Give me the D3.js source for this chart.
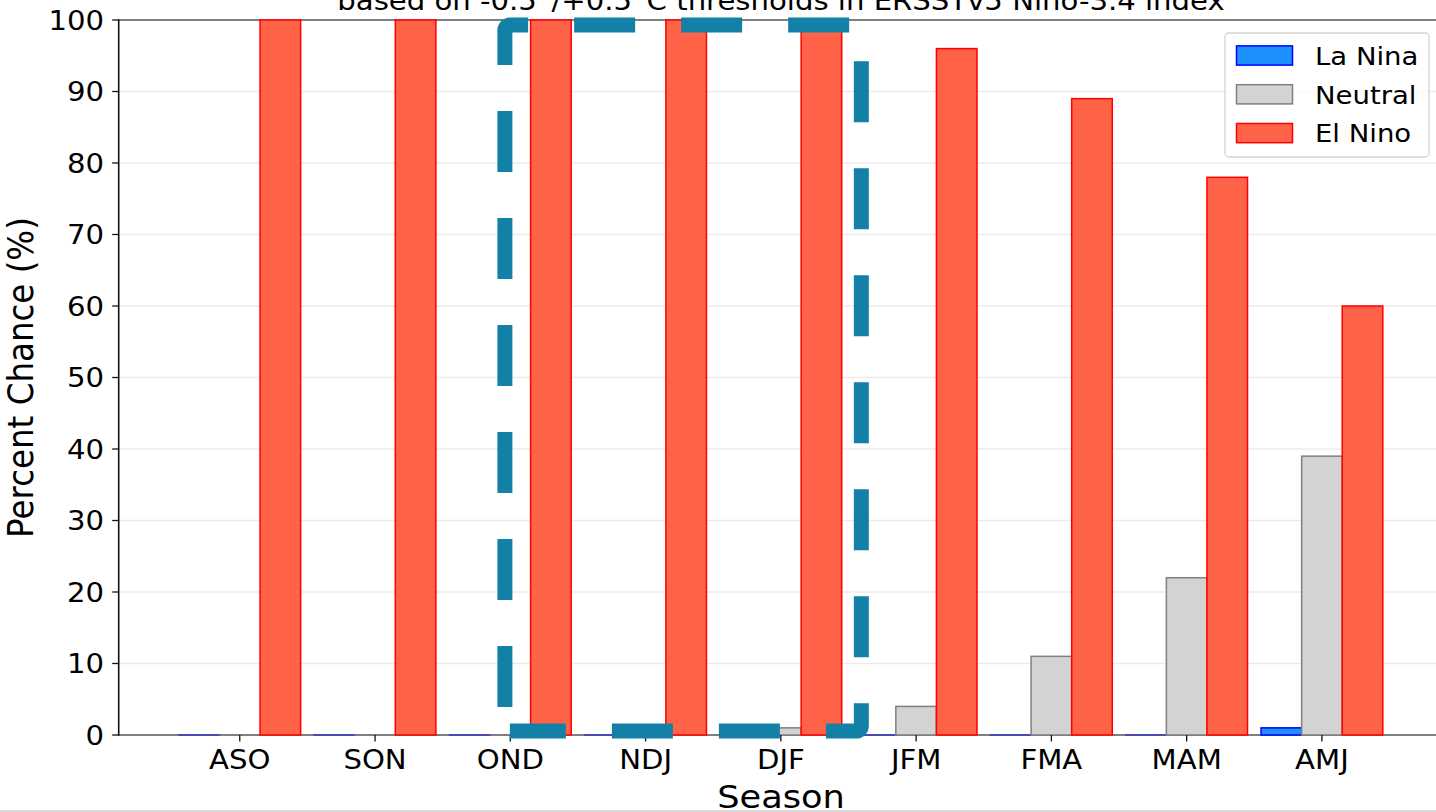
<!DOCTYPE html>
<html>
<head>
<meta charset="utf-8">
<script src="https://cdn.jsdelivr.net/npm/d3@7"></script>
<style>
  body { margin: 0; background: #fff; }
  text { font-family: "DejaVu Sans", sans-serif; fill: #000; }
</style>
</head>
<body>
<script>
// data
const seasons = ['ASO', 'SON', 'OND', 'NDJ', 'DJF', 'JFM', 'FMA', 'MAM', 'AMJ']
const laNina  = [0, 0, 0, 0, 0, 0, 0, 0, 1]
const neutral = [0, 0, 0, 0, 1, 4, 11, 22, 39]
const elNino  = [100, 100, 100, 100, 100, 96, 89, 78, 60]
const yTicks  = [0, 10, 20, 30, 40, 50, 60, 70, 80, 90, 100]
const seriesNames = ['La Nina', 'Neutral', 'El Nino']
const titleText = 'based on -0.5˚/+0.5˚C thresholds in ERSSTv5 Nino-3.4 index'
// highlight box (data units)
const boxX = [1.96, 4.595]
const boxY = [0.55, 99.3]

var svgWidth = 1436
var svgHeight = 812
var sx = 1.1   // the picture is a bit wider than tall

const series = [
  {name: seriesNames[0], values: laNina,  off: -0.3, fill: '#1e90ff', edge: '#0000ff'},
  {name: seriesNames[1], values: neutral, off: 0,    fill: '#d3d3d3', edge: '#808080'},
  {name: seriesNames[2], values: elNino,  off: 0.3,  fill: '#ff6347', edge: '#ff0000'}
]
const barW = 0.3

var svg = d3.select('body')
  .append('svg')
    .attr('width', svgWidth)
    .attr('height', svgHeight)

var xScale = d3.scaleLinear()
  .domain([-0.895, seasons.length - 1 + 0.895])
  .range([118.7, 1443])

var yScale = d3.scaleLinear()
  .domain([0, 100])
  .range([735, 20])

function label(parent, x, y, txt, size, anchor) {
  return parent.append('text')
    .attr('transform', 'translate(' + x + ',' + y + ') scale(' + sx + ',1)')
    .attr('text-anchor', anchor || 'middle')
    .style('font-size', size + 'px')
    .text(txt)
}

// grid
svg.append('g')
  .selectAll('line')
  .data(yTicks.slice(1, -1))
  .enter()
  .append('line')
    .attr('x1', xScale.range()[0])
    .attr('x2', svgWidth)
    .attr('y1', function(d) { return yScale(d) })
    .attr('y2', function(d) { return yScale(d) })
    .attr('stroke', '#ebebeb')
    .attr('stroke-width', 1.5)

// spines top/bottom
svg.append('line')
  .attr('x1', xScale.range()[0]).attr('x2', svgWidth)
  .attr('y1', yScale(100)).attr('y2', yScale(100))
  .attr('stroke', '#555').attr('stroke-width', 1.6)
svg.append('line')
  .attr('x1', xScale.range()[0]).attr('x2', svgWidth)
  .attr('y1', yScale(0)).attr('y2', yScale(0))
  .attr('stroke', '#555').attr('stroke-width', 1.6)

// bars (zero bars still get their edge drawn, like matplotlib)
series.forEach(function(s) {
  svg.append('g')
    .selectAll('rect')
    .data(s.values)
    .enter()
    .append('rect')
      .attr('x', function(d, i) { return xScale(i + s.off - barW / 2) })
      .attr('width', xScale(barW) - xScale(0))
      .attr('y', function(d) { return yScale(d) })
      .attr('height', function(d) { return Math.max(yScale(0) - yScale(d), 0.01) })
      .attr('fill', s.fill)
      .attr('stroke', s.edge)
      .attr('stroke-width', 1.5)
      .attr('stroke-opacity', function(d) { return d === 0 ? 0.55 : 1 })
})

// left spine
svg.append('line')
  .attr('x1', xScale.range()[0]).attr('x2', xScale.range()[0])
  .attr('y1', yScale(0) + 0.8).attr('y2', yScale(100) - 0.8)
  .attr('stroke', '#111').attr('stroke-width', 1.6)

// y axis ticks + labels
var yAx = svg.append('g')
yTicks.forEach(function(t) {
  yAx.append('line')
    .attr('x1', xScale.range()[0] - 6.5).attr('x2', xScale.range()[0])
    .attr('y1', yScale(t)).attr('y2', yScale(t))
    .attr('stroke', '#111').attr('stroke-width', 1.3)
  label(yAx, 104, yScale(t) + 9.6, t, 26.5, 'end')
})

// x axis ticks + labels
var xAx = svg.append('g')
seasons.forEach(function(s, i) {
  xAx.append('line')
    .attr('x1', xScale(i)).attr('x2', xScale(i))
    .attr('y1', yScale(0)).attr('y2', yScale(0) + 6.5)
    .attr('stroke', '#111').attr('stroke-width', 1.3)
  label(xAx, xScale(i), 769, s, 26.5)
})

// axis labels + title
label(svg, 781, 808, 'Season', 32)
svg.append('text')
  .attr('transform', 'translate(33,' + ((yScale(0) + yScale(100)) / 2) + ') scale(' + sx + ',1) rotate(-90)')
  .attr('text-anchor', 'middle')
  .style('font-size', '32.5px')
  .text('Percent Chance (%)')
label(svg, 781, 10, titleText, 26.5)

// dashed highlight box, path starts bottom-left and runs along the bottom first
var bx0 = xScale(boxX[0]), bx1 = xScale(boxX[1])
var by0 = yScale(boxY[1]), by1 = yScale(boxY[0])
var r = 5
var p = d3.path()
p.moveTo(bx0 + r, by1)
p.lineTo(bx1 - r, by1)
p.arcTo(bx1, by1, bx1, by1 - r, r)
p.lineTo(bx1, by0 + r)
p.arcTo(bx1, by0, bx1 - r, by0, r)
p.lineTo(bx0 + r, by0)
p.arcTo(bx0, by0, bx0, by0 + r, r)
p.lineTo(bx0, by1 - r)
p.arcTo(bx0, by1, bx0 + r, by1, r)
svg.append('path')
  .attr('d', p.toString())
  .attr('fill', 'none')
  .attr('stroke', '#1380a8')
  .attr('stroke-width', 15)
  .attr('stroke-dasharray', '61 46')
  .attr('stroke-dashoffset', 5)

// legend
var leg = svg.append('g')
leg.append('rect')
  .attr('x', 1225).attr('y', 33)
  .attr('width', 204).attr('height', 124)
  .attr('rx', 4)
  .attr('fill', 'white').attr('fill-opacity', 0.8)
  .attr('stroke', '#d4d4d4').attr('stroke-width', 1.3)
series.forEach(function(s, i) {
  var cy = 55.5 + i * 38.8
  leg.append('rect')
    .attr('x', 1236.5).attr('y', cy - 9.6)
    .attr('width', 56).attr('height', 19.2)
    .attr('fill', s.fill)
    .attr('stroke', s.edge).attr('stroke-width', 1.5)
  label(leg, 1315, cy + 9.2, s.name, 25, 'start')
})

// bottom edge of the screenshot
svg.append('rect')
  .attr('x', 0).attr('y', 810)
  .attr('width', svgWidth).attr('height', 2)
  .attr('fill', '#dcdcdc')
</script>
</body>
</html>
